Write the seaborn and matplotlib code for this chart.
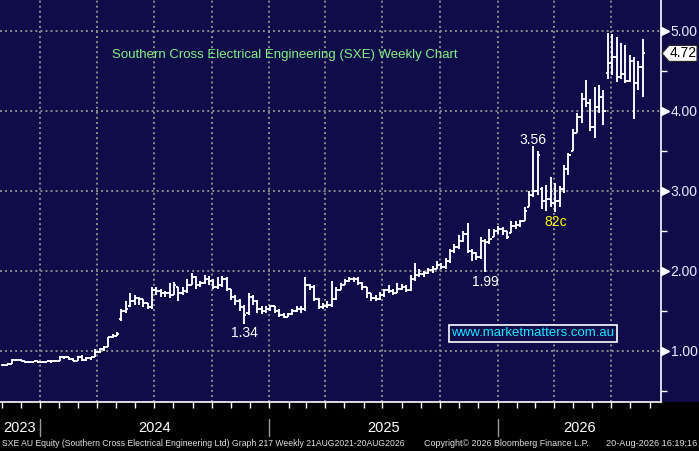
import pandas as pd
import matplotlib
matplotlib.use("Agg")
import matplotlib.pyplot as plt
import matplotlib.dates as mdates
import matplotlib.transforms as mtrans
from matplotlib.patches import Polygon, Rectangle
import seaborn as sns

# ============================================
# DATA (weekly OHLC)
# ============================================

first_week = "2023-11-03"

opens = [
    0.82, 0.83, 0.84, 0.89, 0.89, 0.88, 0.86, 0.86, 0.87, 0.86,
    0.86, 0.87, 0.87, 0.88, 0.93, 0.92, 0.90, 0.88, 0.92, 0.89,
    0.91, 0.92, 0.99, 1.02, 1.05, 1.17, 1.19, 1.40, 1.50, 1.56,
    1.62, 1.66, 1.65, 1.60, 1.55, 1.76, 1.75, 1.72, 1.72, 1.70,
    1.80, 1.72, 1.75, 1.83, 1.93, 1.82, 1.85, 1.90, 1.88, 1.80,
    1.83, 1.90, 1.78, 1.68, 1.62, 1.55, 1.48, 1.68, 1.62, 1.52,
    1.50, 1.52, 1.56, 1.50, 1.45, 1.43, 1.46, 1.50, 1.53, 1.52,
    1.82, 1.80, 1.65, 1.55, 1.56, 1.58, 1.65, 1.76, 1.82, 1.88,
    1.90, 1.90, 1.85, 1.80, 1.72, 1.66, 1.65, 1.70, 1.76, 1.75,
    1.72, 1.78, 1.80, 1.76, 1.90, 1.95, 1.96, 1.97, 2.01, 2.03,
    2.08, 2.05, 2.12, 2.25, 2.30, 2.38, 2.46, 2.25, 2.22, 2.17,
    2.38, 2.36, 2.42, 2.50, 2.53, 2.50, 2.48, 2.56, 2.58, 2.62,
    2.80, 2.95, 3.00, 3.02, 2.88, 2.90, 2.85, 2.88, 3.02, 3.28,
    3.50, 3.72, 3.92, 4.15, 4.10, 3.80, 4.05, 4.18, 4.48, 4.60,
    4.68, 4.42, 4.46, 4.38, 4.62, 4.35, 4.55,
]

highs = [
    0.84, 0.85, 0.90, 0.90, 0.90, 0.88, 0.87, 0.88, 0.88, 0.87,
    0.88, 0.88, 0.89, 0.94, 0.93, 0.92, 0.91, 0.94, 0.95, 0.93,
    0.93, 1.02, 1.04, 1.06, 1.18, 1.21, 1.24, 1.52, 1.62, 1.72,
    1.70, 1.68, 1.65, 1.60, 1.80, 1.80, 1.78, 1.75, 1.85, 1.86,
    1.80, 1.80, 1.90, 1.97, 1.94, 1.88, 1.95, 1.94, 1.90, 1.92,
    1.94, 1.92, 1.78, 1.70, 1.65, 1.58, 1.72, 1.70, 1.64, 1.56,
    1.56, 1.58, 1.56, 1.52, 1.47, 1.48, 1.52, 1.56, 1.56, 1.92,
    1.84, 1.82, 1.66, 1.60, 1.62, 1.88, 1.80, 1.85, 1.90, 1.93,
    1.92, 1.92, 1.86, 1.80, 1.72, 1.70, 1.74, 1.78, 1.82, 1.78,
    1.85, 1.84, 1.82, 1.95, 2.10, 2.02, 2.00, 2.04, 2.06, 2.12,
    2.10, 2.16, 2.28, 2.34, 2.45, 2.50, 2.60, 2.28, 2.24, 2.42,
    2.40, 2.52, 2.53, 2.56, 2.55, 2.50, 2.62, 2.62, 2.64, 2.80,
    3.00, 3.56, 3.50, 3.05, 3.08, 3.18, 3.10, 3.06, 3.32, 3.48,
    3.78, 3.98, 4.22, 4.39, 4.15, 4.30, 4.32, 4.26, 4.97, 4.96,
    4.92, 4.85, 4.82, 4.70, 4.68, 4.62, 4.90,
]

lows = [
    0.81, 0.83, 0.84, 0.88, 0.87, 0.85, 0.85, 0.86, 0.85, 0.85,
    0.86, 0.85, 0.86, 0.87, 0.90, 0.89, 0.87, 0.87, 0.87, 0.88,
    0.89, 0.92, 0.98, 1.00, 1.05, 1.16, 1.19, 1.38, 1.48, 1.55,
    1.58, 1.58, 1.55, 1.52, 1.53, 1.70, 1.68, 1.68, 1.66, 1.70,
    1.62, 1.70, 1.72, 1.82, 1.78, 1.80, 1.84, 1.82, 1.78, 1.78,
    1.80, 1.75, 1.64, 1.58, 1.50, 1.34, 1.45, 1.58, 1.48, 1.46,
    1.48, 1.50, 1.47, 1.43, 1.41, 1.42, 1.45, 1.49, 1.48, 1.50,
    1.76, 1.62, 1.52, 1.52, 1.54, 1.55, 1.64, 1.76, 1.82, 1.86,
    1.86, 1.83, 1.76, 1.66, 1.62, 1.62, 1.64, 1.68, 1.72, 1.70,
    1.72, 1.76, 1.74, 1.75, 1.88, 1.92, 1.93, 1.96, 1.98, 2.02,
    2.02, 2.03, 2.10, 2.22, 2.28, 2.36, 2.22, 2.12, 2.14, 2.15,
    1.99, 2.34, 2.42, 2.46, 2.45, 2.40, 2.48, 2.52, 2.55, 2.62,
    2.80, 2.92, 2.95, 2.78, 2.75, 2.80, 2.74, 2.80, 2.98, 3.20,
    3.50, 3.72, 3.85, 4.05, 3.75, 3.66, 3.98, 3.83, 4.40, 4.45,
    4.36, 4.40, 4.35, 4.36, 3.90, 4.26, 4.18,
]

closes = [
    0.83, 0.84, 0.89, 0.89, 0.88, 0.86, 0.86, 0.87, 0.86, 0.86,
    0.87, 0.87, 0.88, 0.93, 0.92, 0.90, 0.88, 0.92, 0.89, 0.91,
    0.92, 0.99, 1.02, 1.05, 1.17, 1.19, 1.21, 1.50, 1.52, 1.62,
    1.66, 1.65, 1.60, 1.55, 1.76, 1.75, 1.72, 1.72, 1.70, 1.82,
    1.72, 1.75, 1.83, 1.93, 1.82, 1.85, 1.90, 1.88, 1.80, 1.83,
    1.90, 1.78, 1.68, 1.62, 1.55, 1.45, 1.68, 1.62, 1.52, 1.50,
    1.52, 1.56, 1.50, 1.45, 1.43, 1.46, 1.50, 1.53, 1.52, 1.82,
    1.80, 1.65, 1.55, 1.56, 1.58, 1.65, 1.76, 1.82, 1.88, 1.90,
    1.90, 1.85, 1.80, 1.72, 1.66, 1.65, 1.70, 1.76, 1.75, 1.72,
    1.78, 1.80, 1.76, 1.90, 1.95, 1.96, 1.97, 2.01, 2.03, 2.08,
    2.05, 2.12, 2.25, 2.30, 2.38, 2.46, 2.25, 2.22, 2.17, 2.38,
    2.36, 2.40, 2.50, 2.53, 2.50, 2.42, 2.56, 2.58, 2.62, 2.75,
    2.95, 3.00, 3.45, 2.88, 2.90, 2.85, 2.88, 3.02, 3.28, 3.45,
    3.72, 3.92, 4.15, 4.10, 3.80, 4.05, 4.18, 4.00, 4.60, 4.68,
    4.42, 4.46, 4.38, 4.62, 4.35, 4.55, 4.72,
]

price_levels = [1.0, 2.0, 3.0, 4.0, 5.0]
half_levels = [0.5, 1.5, 2.5, 3.5, 4.5]
years = ["2023", "2024", "2025", "2026"]
last_price = "4.72"

# callouts: (text, bar index, price, colour)
callouts = [
    ("3.56", 121, 3.64, "white"),
    ("82c", 126, 2.61, "#ffff00"),
    ("1.99", 110, 1.86, "white"),
    ("1.34", 55, 1.22, "white"),
]

title = "Southern Cross Electrical Engineering (SXE) Weekly Chart"
footer_left = ("SXE AU Equity (Southern Cross Electrical Engineering Ltd) "
               "Graph 217 Weekly 21AUG2021-20AUG2026")
footer_mid = "Copyright\u00a9 2026 Bloomberg Finance L.P."
footer_right = "20-Aug-2026 16:19:16"

df = pd.DataFrame({
    "date": pd.date_range(first_week, periods=len(closes), freq="7D"),
    "open": opens, "high": highs, "low": lows, "close": closes,
})

# ============================================
# STYLE
# ============================================

NAVY = "#100c4a"
GRID = "#8c8c8c"
W, H = 699, 451
PLOT_R, PLOT_B = 661, 402

sns.set_theme(style="dark", rc={"axes.facecolor": NAVY,
                                "figure.facecolor": "black",
                                "savefig.facecolor": "black"})
plt.rcParams["font.family"] = ["Liberation Sans", "DejaVu Sans"]

fig = plt.figure(figsize=(W / 100, H / 100), dpi=100)
# navy strip behind the price scale (drawn under the axes)
fig.patches.append(Rectangle((PLOT_R / W, 1 - PLOT_B / H), 1 - PLOT_R / W, PLOT_B / H,
                             facecolor=NAVY, edgecolor="none",
                             transform=fig.transFigure, zorder=-5))
ax = fig.add_axes([0, 1 - PLOT_B / H, PLOT_R / W, PLOT_B / H])
ax.set_zorder(1)

x_start, x_end = pd.Timestamp("2023-10-29"), pd.Timestamp("2026-09-19")
ax.set_xlim(x_start, x_end)
ax.set_ylim(0.3625, 5.3875)

# grid: dotted, quarterly + whole dollars
for q in pd.date_range("2024-01-01", "2026-07-01", freq="QS"):
    ax.axvline(q, color=GRID, ls=(0, (1, 1.6)), lw=1.4, zorder=1)
for lvl in price_levels:
    ax.axhline(lvl, color=GRID, ls=(0, (1, 1.6)), lw=1.4, zorder=1)

# ============================================
# OHLC BARS
# ============================================

tick = pd.Timedelta(days=3.5)
ax.vlines(df["date"], df["low"], df["high"], color="white", lw=1.35, zorder=3)
ax.hlines(df["open"], df["date"] - tick, df["date"], color="white", lw=1.35, zorder=3)
ax.hlines(df["close"], df["date"], df["date"] + tick, color="white", lw=1.35, zorder=3)

# ============================================
# AXES
# ============================================

sns.despine(ax=ax, left=True, top=True, right=False, bottom=False)
for side in ["right", "bottom"]:
    ax.spines[side].set_color("white")
    ax.spines[side].set_linewidth(1.2)

ax.xaxis.set_major_locator(mdates.MonthLocator())
ax.tick_params(axis="x", which="major", direction="out", length=4, width=1,
               color="white", labelbottom=False, bottom=True)

ax.yaxis.tick_right()
ax.set_yticks(price_levels)
ax.set_yticklabels([f"{v:.2f}" for v in price_levels])
ax.set_yticks(half_levels, minor=True)
ax.tick_params(axis="y", which="major", length=0, pad=7,
               labelsize=10, labelcolor="#e8e8ff")
ax.tick_params(axis="y", which="minor", right=True, direction="out",
               length=4, width=1, color="white")

# triangles on right axis
ytrans = mtrans.blended_transform_factory(ax.transAxes, ax.transData)
for lvl in price_levels:
    ax.plot(1.0065, lvl, marker=">", ms=6, color="white", mec="white",
            transform=ytrans, clip_on=False, zorder=5)

# last price flag
y_px = (5.3875 - 4.72) / (5.3875 - 0.3625) * PLOT_B
flag = [(662, y_px), (669, y_px - 8), (697, y_px - 8), (697, y_px + 8), (669, y_px + 8)]
flag = [(px / W, 1 - py / H) for px, py in flag]
ax.add_patch(Polygon(flag, closed=True, facecolor="white", edgecolor="#222222",
                     lw=0.8, transform=fig.transFigure, clip_on=False, zorder=7))
ax.text(683 / W, 1 - y_px / H, last_price, color="black", fontsize=10,
        ha="center", va="center", transform=fig.transFigure, clip_on=False, zorder=8)

# year labels and separators below the axis
xtrans = mtrans.blended_transform_factory(ax.transData, ax.transAxes)
bounds = [x_start, pd.Timestamp("2024-01-01"), pd.Timestamp("2025-01-01"),
          pd.Timestamp("2026-01-01"), x_end]
for i, yr in enumerate(years):
    mid = bounds[i] + (bounds[i + 1] - bounds[i]) / 2
    ax.text(mid, -26 / PLOT_B, yr, transform=xtrans, color="white",
            fontsize=10.5, ha="center", va="center", clip_on=False)
for b in bounds[1:-1]:
    ax.plot([b, b], [-17 / PLOT_B, -34 / PLOT_B], color="#9a9a9a", lw=1,
            transform=xtrans, clip_on=False)

# ============================================
# TEXT
# ============================================

ax.text(285 / PLOT_R, 1 - 55 / PLOT_B, title, transform=ax.transAxes,
        color="#80f080", fontsize=9.5, ha="center", va="center")

for txt, idx, price, col in callouts:
    ax.text(df["date"][idx], price, txt, color=col, fontsize=10,
            ha="center", va="center", zorder=6)

ax.text(533 / PLOT_R, 1 - 333.5 / PLOT_B, "www.marketmatters.com.au",
        transform=ax.transAxes, color="#19e6ff", fontsize=9.5,
        ha="center", va="center", zorder=6,
        bbox=dict(boxstyle="square,pad=0.2", fc=NAVY, ec="white", lw=1.2))

fy = 1 - 443 / H
fig.text(2 / W, fy, footer_left, color="#e0e0e0", fontsize=6.2, ha="left", va="center")
fig.text(424 / W, fy, footer_mid, color="#e0e0e0", fontsize=6.4, ha="left", va="center")
fig.text(697 / W, fy, footer_right, color="#e0e0e0", fontsize=6.6, ha="right", va="center")

fig.savefig("out.png", dpi=100, facecolor="black")
